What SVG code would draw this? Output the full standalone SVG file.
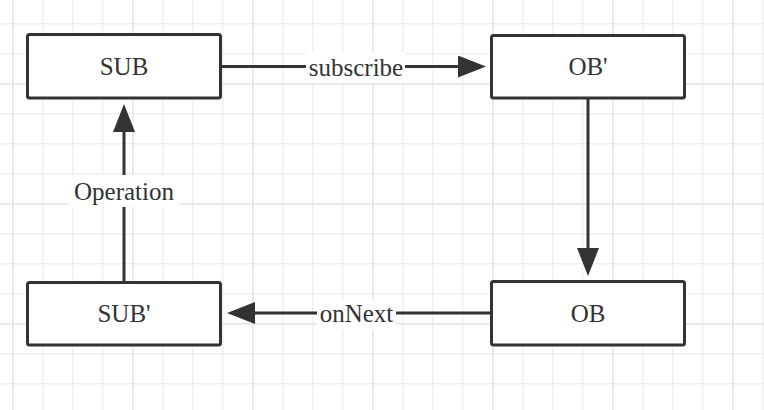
<svg xmlns="http://www.w3.org/2000/svg" width="764" height="410" viewBox="0 0 764 410">
  <style>
    .box { fill: #ffffff; stroke: #333333; stroke-width: 3; }
    .lbl { font-family: "Liberation Serif", "Times New Roman", "DejaVu Serif", serif; font-size: 25px; fill: #333333; text-anchor: middle; }
    .edge { stroke: #333333; stroke-width: 3; fill: none; marker-end: url(#arrow); }
    .lblbg { fill: #ffffff; }
  </style>
  <defs>
    <pattern id="minor" patternUnits="userSpaceOnUse" x="12" y="23" width="30" height="30">
      <rect x="0" y="0" width="30" height="30" fill="#ffffff"/>
      <rect x="0" y="0" width="1.5" height="30" fill="#efefef"/>
      <rect x="0" y="0" width="30" height="1.5" fill="#efefef"/>
    </pattern>
    <pattern id="major" patternUnits="userSpaceOnUse" x="12" y="83" width="120" height="120">
      <rect x="0" y="0" width="1.5" height="120" fill="#e6e6e6"/>
      <rect x="0" y="0" width="120" height="1.5" fill="#e6e6e6"/>
    </pattern>
    <marker id="arrow" viewBox="0 0 28 22" refX="1" refY="11" markerWidth="28" markerHeight="22" markerUnits="userSpaceOnUse" orient="auto">
      <path d="M0,0 L28,11 L0,22 Z" fill="#333333"/>
    </marker>
  </defs>
  <rect x="0" y="0" width="764" height="410" fill="url(#minor)"/>
  <rect x="0" y="0" width="764" height="410" fill="url(#major)"/>

  <g id="connectors">
    <g id="e-subscribe">
      <line class="edge" x1="222" y1="66.5" x2="459" y2="66.5"/>
      <rect class="lblbg" x="306" y="52" width="99" height="31"/>
      <text class="lbl" font-family="Liberation Serif, serif" x="356" y="76">subscribe</text>
    </g>
    <g id="e-down">
      <line class="edge" x1="588" y1="99" x2="588" y2="249"/>
    </g>
    <g id="e-onnext">
      <line class="edge" x1="490" y1="313" x2="254" y2="313"/>
      <rect class="lblbg" x="317" y="299" width="79" height="31"/>
      <text class="lbl" font-family="Liberation Serif, serif" x="356.5" y="322">onNext</text>
    </g>
    <g id="e-operation">
      <line class="edge" x1="124" y1="281" x2="124" y2="131"/>
      <rect class="lblbg" x="69" y="175" width="110" height="32"/>
      <text class="lbl" font-family="Liberation Serif, serif" x="124" y="200">Operation</text>
    </g>
  </g>

  <g id="SUB">
    <rect class="box" x="27.5" y="34.5" width="193" height="63.5" rx="2"/>
    <text class="lbl" font-family="Liberation Serif, serif" x="124" y="75">SUB</text>
  </g>
  <g id="OBp">
    <rect class="box" x="491.5" y="35.5" width="193" height="62.5" rx="2"/>
    <text class="lbl" font-family="Liberation Serif, serif" x="588" y="75">OB'</text>
  </g>
  <g id="SUBp">
    <rect class="box" x="27.5" y="282.5" width="193" height="62.5" rx="2"/>
    <text class="lbl" font-family="Liberation Serif, serif" x="124" y="322">SUB'</text>
  </g>
  <g id="OB">
    <rect class="box" x="491.5" y="281.5" width="193" height="63.5" rx="2"/>
    <text class="lbl" font-family="Liberation Serif, serif" x="588" y="322">OB</text>
  </g>
</svg>
